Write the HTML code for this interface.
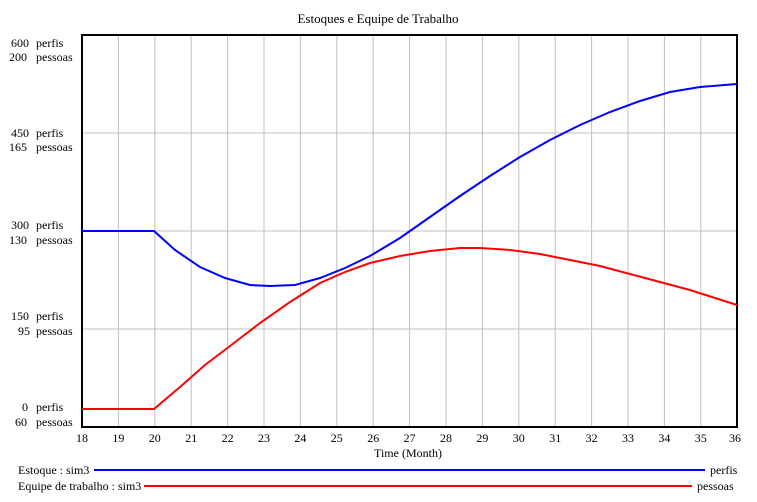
<!DOCTYPE html>
<html><head><meta charset="utf-8"><style>
body{margin:0;background:#fff}
svg{display:block;font-family:"Liberation Serif",serif;font-size:12px}
</style></head><body>
<svg width="757" height="502" xmlns="http://www.w3.org/2000/svg">
<rect width="757" height="502" fill="#fff"/>
<text x="378" y="23" text-anchor="middle" font-size="13">Estoques e Equipe de Trabalho</text>
<g stroke="#c0c0c0" stroke-width="1">
<line x1="118.4" y1="35" x2="118.4" y2="427"/><line x1="154.8" y1="35" x2="154.8" y2="427"/>
<line x1="191.2" y1="35" x2="191.2" y2="427"/><line x1="227.6" y1="35" x2="227.6" y2="427"/>
<line x1="264" y1="35" x2="264" y2="427"/><line x1="300.4" y1="35" x2="300.4" y2="427"/>
<line x1="336.8" y1="35" x2="336.8" y2="427"/><line x1="373.2" y1="35" x2="373.2" y2="427"/>
<line x1="409.6" y1="35" x2="409.6" y2="427"/><line x1="446" y1="35" x2="446" y2="427"/>
<line x1="482.4" y1="35" x2="482.4" y2="427"/><line x1="518.8" y1="35" x2="518.8" y2="427"/>
<line x1="555.2" y1="35" x2="555.2" y2="427"/><line x1="591.6" y1="35" x2="591.6" y2="427"/>
<line x1="628" y1="35" x2="628" y2="427"/><line x1="664.4" y1="35" x2="664.4" y2="427"/>
<line x1="700.8" y1="35" x2="700.8" y2="427"/>
<line x1="82" y1="133" x2="737" y2="133"/><line x1="82" y1="231" x2="737" y2="231"/><line x1="82" y1="329" x2="737" y2="329"/>
</g>
<rect x="82" y="35" width="655" height="392" fill="none" stroke="#000" stroke-width="2"/>
<polyline fill="none" stroke="#0000ff" stroke-width="2" points="82,231 154,231 175,250 200,267 225,278 250,285 270,286 295,285 320,278 345,268 370,256 400,238 430,217 460,196 490,176 520,157 550,140 580,125 610,112 640,101 670,92 700,87 737,84"/>
<polyline fill="none" stroke="#ff0000" stroke-width="2" points="82,409 154,409 180,387 205,365 230,346 260,323 290,302 320,283 345,272 370,263 400,256 430,251 460,248 480,248 510,250 540,254 570,260 600,266 630,274 660,282 690,290 737,305"/>
<g text-anchor="end">
<text x="29" y="47">600</text><text x="27" y="61">200</text>
<text x="29" y="137">450</text><text x="27" y="151">165</text>
<text x="29" y="229">300</text><text x="27" y="244">130</text>
<text x="29" y="320">150</text><text x="30" y="335">95</text>
<text x="28" y="411">0</text><text x="27" y="426">60</text>
</g>
<g>
<text x="36" y="47">perfis</text><text x="36" y="61">pessoas</text>
<text x="36" y="137">perfis</text><text x="36" y="151">pessoas</text>
<text x="36" y="229">perfis</text><text x="36" y="244">pessoas</text>
<text x="36" y="320">perfis</text><text x="36" y="335">pessoas</text>
<text x="36" y="411">perfis</text><text x="36" y="426">pessoas</text>
</g>
<g text-anchor="middle">
<text x="82" y="442">18</text><text x="118.4" y="442">19</text><text x="154.8" y="442">20</text><text x="191.2" y="442">21</text>
<text x="227.6" y="442">22</text><text x="264" y="442">23</text><text x="300.4" y="442">24</text><text x="336.8" y="442">25</text>
<text x="373.2" y="442">26</text><text x="409.6" y="442">27</text><text x="446" y="442">28</text><text x="482.4" y="442">29</text>
<text x="518.8" y="442">30</text><text x="555.2" y="442">31</text><text x="591.6" y="442">32</text><text x="628" y="442">33</text>
<text x="664.4" y="442">34</text><text x="700.8" y="442">35</text><text x="735" y="442">36</text>
<text x="408" y="457">Time (Month)</text>
</g>
<text x="18" y="474">Estoque : sim3</text>
<line x1="94" y1="470" x2="705" y2="470" stroke="#0000ff" stroke-width="2"/>
<text x="710" y="474">perfis</text>
<text x="18" y="490">Equipe de trabalho : sim3</text>
<line x1="144" y1="486" x2="692" y2="486" stroke="#ff0000" stroke-width="2"/>
<text x="697" y="490">pessoas</text>
</svg>
</body></html>
